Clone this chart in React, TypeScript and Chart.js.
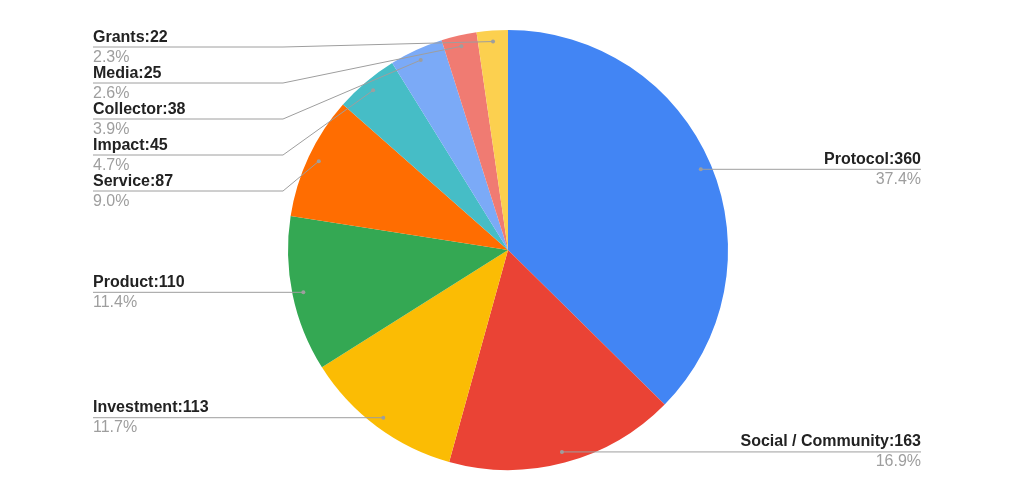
import React, { useEffect, useRef } from "react";
import { Chart, registerables } from "chart.js";

Chart.register(...registerables);

const categories = [
  "Protocol",
  "Social / Community",
  "Investment",
  "Product",
  "Service",
  "Impact",
  "Collector",
  "Media",
  "Grants",
];
const counts = [360, 163, 113, 110, 87, 45, 38, 25, 22];
const sliceColors = [
  "#4285F4",
  "#EA4335",
  "#FBBC04",
  "#34A853",
  "#FF6D01",
  "#46BDC6",
  "#7BAAF7",
  "#F07B72",
  "#FCD04F",
];

const FONT = "Arial, 'Liberation Sans', sans-serif";

// Callout labels: "name:value" above a leader line, percentage below it.
const calloutPlugin = {
  id: "callouts",
  afterDraw(chart: any) {
    const ctx = chart.ctx as CanvasRenderingContext2D;
    const meta = chart.getDatasetMeta(0);
    const data = chart.data.datasets[0].data as number[];
    const total = data.reduce((a, b) => a + b, 0);
    const labels = chart.data.labels as string[];
    const area = chart.chartArea;

    type Item = {
      i: number;
      side: "left" | "right";
      dx: number;
      dy: number;
      y: number;
      cx: number;
      R: number;
    };
    const items: Item[] = [];
    meta.data.forEach((arc: any, i: number) => {
      const p = arc.getProps(["x", "y", "startAngle", "endAngle", "outerRadius"], true);
      const mid = (p.startAngle + p.endAngle) / 2;
      const r = p.outerRadius * 0.95;
      const dx = p.x + Math.cos(mid) * r;
      const dy = p.y + Math.sin(mid) * r;
      items.push({
        i,
        side: Math.cos(mid) >= 0 ? "right" : "left",
        dx,
        dy,
        y: dy,
        cx: p.x,
        R: p.outerRadius,
      });
    });

    // Resolve overlaps on each side, stacking downward from the top bound.
    const spacing = 36;
    const minY = area.top + 17;
    (["left", "right"] as const).forEach((side) => {
      const group = items.filter((it) => it.side === side).sort((a, b) => a.dy - b.dy);
      let prev = -Infinity;
      group.forEach((it) => {
        it.y = Math.max(it.dy, minY, prev + spacing);
        prev = it.y;
      });
    });

    ctx.save();
    items.forEach((it) => {
      const textX = it.side === "left" ? it.cx - 415 : it.cx + 413;
      const elbowX = it.side === "left" ? it.cx - it.R - 5 : it.cx + it.R + 5;

      // leader line
      ctx.strokeStyle = "#9e9e9e";
      ctx.lineWidth = 1;
      ctx.beginPath();
      ctx.moveTo(textX, it.y);
      if (Math.abs(it.y - it.dy) > 0.5) {
        ctx.lineTo(elbowX, it.y);
      }
      ctx.lineTo(it.dx, it.dy);
      ctx.stroke();

      // anchor dot
      ctx.fillStyle = "#9e9e9e";
      ctx.beginPath();
      ctx.arc(it.dx, it.dy, 2, 0, Math.PI * 2);
      ctx.fill();

      // texts
      ctx.textAlign = it.side === "left" ? "left" : "right";
      ctx.textBaseline = "alphabetic";
      ctx.fillStyle = "#222222";
      ctx.font = `bold 16px ${FONT}`;
      ctx.fillText(`${labels[it.i]}:${data[it.i]}`, textX, it.y - 5.5);
      ctx.fillStyle = "#9e9e9e";
      ctx.font = `16px ${FONT}`;
      const pct = ((data[it.i] / total) * 100).toFixed(1) + "%";
      ctx.fillText(pct, textX, it.y + 14.5);
    });
    ctx.restore();
  },
};

export default function App() {
  const canvasRef = useRef<HTMLCanvasElement | null>(null);

  useEffect(() => {
    if (!canvasRef.current) return;
    const chart = new Chart(canvasRef.current, {
      type: "pie",
      data: {
        labels: categories,
        datasets: [
          {
            data: counts,
            backgroundColor: sliceColors,
            borderWidth: 0,
          },
        ],
      },
      options: {
        responsive: false,
        animation: false,
        layout: { padding: { top: 30, bottom: 18, left: 0, right: 8 } },
        plugins: {
          legend: { display: false },
          tooltip: { enabled: false },
        },
      },
      plugins: [calloutPlugin],
    });
    return () => chart.destroy();
  }, []);

  return (
    <div style={{ position: "absolute", left: 0, top: 0, width: 1024, height: 488, background: "#ffffff" }}>
      <canvas ref={canvasRef} width={1024} height={488} />
    </div>
  );
}
